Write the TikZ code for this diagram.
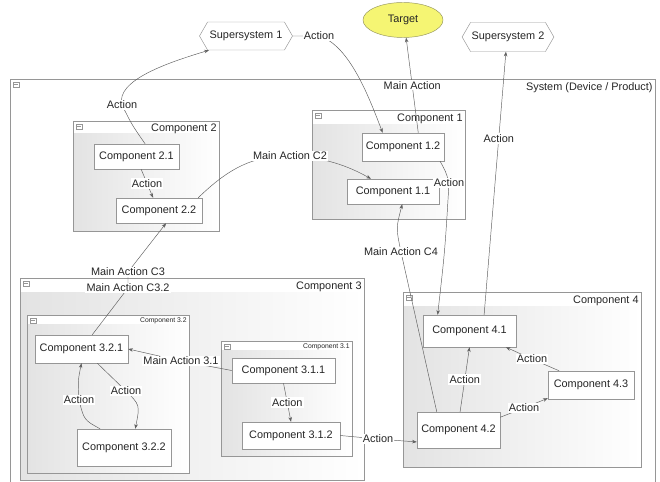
\documentclass[tikz,border=0pt]{standalone}
\usepackage{fontspec}
\newfontfamily\diafont{Liberation Sans}
\usepackage{xcolor}
\definecolor{targetyellow}{RGB}{245,245,115}
\definecolor{targetline}{RGB}{150,150,95}
\definecolor{lineclr}{RGB}{95,95,95}
\definecolor{boxline}{RGB}{150,150,150}
\usepackage{tikz}
\usetikzlibrary{arrows.meta}
\usetikzlibrary{shapes.geometric}
\usetikzlibrary{shapes.symbols}
\newlength{\pxu}
\setlength{\pxu}{0.03cm}

\begin{document}
\begin{tikzpicture}[x=\pxu, y=-\pxu,
    every node/.style={font=\diafont\fontsize{9.3}{11}\selectfont, text=black!85},
    box size/.style 2 args={minimum width=#1\pxu, minimum height=#2\pxu},
    comp box/.style={draw=boxline, fill=white, inner sep=1pt},
    group line/.style={draw=boxline},
    super/.style={draw=boxline, fill=white, signal, signal to=west and east, signal pointer angle=120, inner sep=1pt},
    conn/.style={draw=lineclr, -{Stealth[length=4pt,width=3pt]}},
    lbl/.style={fill=white, inner sep=1pt}]
      \useasboundingbox (0,0) rectangle (660,482);

      % system frame
      \draw[group line] (10,482) |- (655,79) -- (655,482);
      \draw[group line, fill=white] (13,82) rectangle ++(6,5);
      \draw[boxline] (14,84.5) -- ++(4,0);
      \node[anchor=east, inner sep=1pt] (sys) at (654,88) {System (Device / Product)};

      % component groups
      \foreach \nm/\xa/\ya/\xb/\yb/\hd/\fs/\ttl in {
          g2/73/121/219/231/13/9.3/Component 2,
          g1/312/110/465/219/15/9.3/Component 1,
          g3/20/278/364/480/15/9.3/Component 3,
          g32/27/315/189/473/10/5.8/Component 3.2,
          g31/221/341/352/456/10/5.8/Component 3.1,
          g4/403/292/641/467/15/9.3/Component 4}
      {
        \fill[white] (\xa,\ya) rectangle (\xb,\yb);
        \shade[left color=gray!22, right color=white] (\xa,\ya+\hd) rectangle (\xb,\yb);
        \draw[group line] (\xa,\ya) rectangle (\xb,\yb);
        \draw[group line, fill=white] (\xa+3,\ya+3) rectangle ++(6,5);
        \draw[boxline] (\xa+4,\ya+5.5) -- ++(4,0);
        \node[anchor=east, inner sep=1pt, font=\diafont\fontsize{\fs}{\fs}\selectfont] (\nm) at (\xb-1,\ya+\hd/2+1) {\ttl};
      }

      % outside the system
      \node[super, box size={93}{28}] (s1) at (246,36) {Supersystem 1};
      \node[super, box size={91}{29}] (s2) at (508,37) {Supersystem 2};
      \node[draw=targetline, fill=targetyellow, ellipse, inner sep=0pt, box size={80}{35}] (tgt) at (403,20) {Target};

      % components
      \node[comp box, box size={85}{25}] (c21) at (136.5,156.5) {Component 2.1};
      \node[comp box, box size={86}{25}] (c22) at (159,210.5) {Component 2.2};
      \node[comp box, box size={82}{28}] (c12) at (403,147) {Component 1.2};
      \node[comp box, box size={92}{25}] (c11) at (393,191.5) {Component 1.1};
      \node[comp box, box size={93}{28}] (c321) at (81.5,349) {Component 3.2.1};
      \node[comp box, box size={94}{37}] (c322) at (124,447.5) {Component 3.2.2};
      \node[comp box, box size={103}{25}] (c311) at (283.5,370.5) {Component 3.1.1};
      \node[comp box, box size={98}{27}] (c312) at (291,435.5) {Component 3.1.2};
      \node[comp box, box size={93}{32}] (c41) at (469.5,331) {Component 4.1};
      \node[comp box, box size={83}{36}] (c42) at (458.5,430) {Component 4.2};
      \node[comp box, box size={86}{28}] (c43) at (591,385) {Component 4.3};

      % actions
      \draw[conn] (c21.56) .. controls (132,125) .. (122,105) node[lbl] (a1) {Action} .. controls (115,80) and (170,62) .. (s1.201);
      \draw[conn] (c21.-70) -- node[lbl] (a0) {Action} (c22.115);
      \draw[conn] (s1.east) -- (319,36) node[lbl] (a2) {Action} .. controls (350,45) and (370,100) .. (c12.145);
      \draw[conn] (c12.43) -- node[lbl] (a3) {Main Action} (tgt.-80);
      \draw[conn] (c22.18) .. controls (225,172) and (250,155) .. (290,156) node[lbl] (a4) {Main Action C2} .. controls (330,157) and (355,170) .. (c11.150);
      \draw[conn] (c42.140) -- (401,252) node[lbl] (a5) {Main Action C4} .. controls (396,228) .. (c11.-54);
      \draw[conn] (c12.-21) .. controls (446,172) .. (449,183) node[lbl] (a6) {Action} .. controls (445,250) .. (c41.153);
      \draw[conn] (c41.48) -- node[lbl, pos=0.67] (a7) {Action} (s2.262);
      \draw[conn] (c321.53) -- (128,288) node[lbl] (a8) {Main Action C3.2} -- (128,272) node[lbl] (a9) {Main Action C3} -- (c22.-61);
      \draw[conn] (c311.west) -- (181,361) node[lbl] (a10) {Main Action 3.1} -- (c321.east);
      \draw[conn] (c311.south) -- node[lbl] (a11) {Action} (c312.north);
      \draw[conn] (c321.-42) -- (126,391) node[lbl] (a12) {Action} .. controls (140,405) .. (c322.59);
      \draw[conn] (c322.142) .. controls (84,420) .. (79,400) node[lbl] (a13) {Action} .. controls (78,380) .. (c321.south);
      \draw[conn] (c312.east) -- (378,439) node[lbl] (a14) {Action} -- (c42.196);
      \draw[conn] (c42.85) -- node[lbl] (a15) {Action} (c41.south);
      \draw[conn] (c43.156) -- (532,359) node[lbl] (a16) {Action} -- (c41.-24);
      \draw[conn] (c42.17) -- (524,408) node[lbl] (a17) {Action} -- (c43.197);
    \end{tikzpicture}
\end{document}
